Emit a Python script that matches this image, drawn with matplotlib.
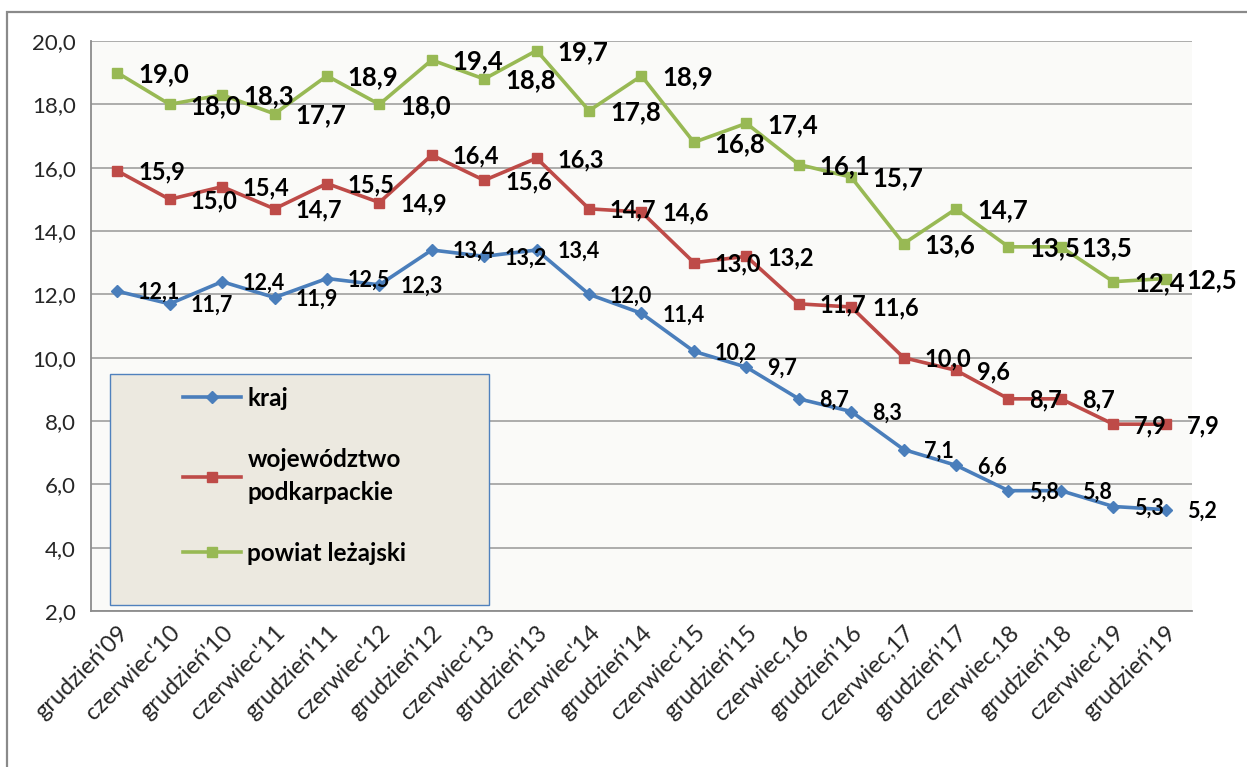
import matplotlib
matplotlib.use("Agg")
import matplotlib.pyplot as plt
from matplotlib.patches import Rectangle

plt.rcParams['font.family'] = ['Lato', 'DejaVu Sans']

categories = ["grudzień'09", "czerwiec'10", "grudzień'10", "czerwiec'11", "grudzień'11",
              "czerwiec'12", "grudzień'12", "czerwiec'13", "grudzień'13", "czerwiec'14",
              "grudzień'14", "czerwiec'15", "grudzień'15", "czerwiec,16", "grudzień'16",
              "czerwiec,17", "grudzień'17", "czerwiec,18", "grudzień'18", "czerwiec'19",
              "grudzień'19"]

kraj = [12.1, 11.7, 12.4, 11.9, 12.5, 12.3, 13.4, 13.2, 13.4, 12.0, 11.4,
        10.2, 9.7, 8.7, 8.3, 7.1, 6.6, 5.8, 5.8, 5.3, 5.2]
podkarpackie = [15.9, 15.0, 15.4, 14.7, 15.5, 14.9, 16.4, 15.6, 16.3, 14.7, 14.6,
                13.0, 13.2, 11.7, 11.6, 10.0, 9.6, 8.7, 8.7, 7.9, 7.9]
lezajski = [19.0, 18.0, 18.3, 17.7, 18.9, 18.0, 19.4, 18.8, 19.7, 17.8, 18.9,
            16.8, 17.4, 16.1, 15.7, 13.6, 14.7, 13.5, 13.5, 12.4, 12.5]

series_names = ["kraj", "województwo\npodkarpackie", "powiat leżajski"]
yticks = [2, 4, 6, 8, 10, 12, 14, 16, 18, 20]

W, H = 1247, 767
fig = plt.figure(figsize=(W / 100, H / 100), dpi=100)
fig.patch.set_facecolor('white')

# outer chart frame (left and top visible)
fig.add_artist(Rectangle((7 / W, -0.2), 1.5, 1.2 - 12 / H, transform=fig.transFigure,
                         fill=False, edgecolor='#8a8a8a', linewidth=1.6))

ax = fig.add_axes([91 / W, 1 - 611 / H, (1192 - 91) / W, (611 - 41) / H])
ax.set_facecolor('#fafaf8')

x = list(range(len(categories)))
styles = [
    (kraj, '#4a7ebb', 'D', 6, 15.5),
    (podkarpackie, '#be4b48', 's', 6.5, 17),
    (lezajski, '#98b954', 's', 7, 18.5),
]
handles = []
for (vals, color, marker, ms, fs), name in zip(styles, series_names):
    h, = ax.plot(x, vals, color=color, linewidth=2.6, marker=marker, markersize=ms,
                 markeredgecolor=color, markerfacecolor=color, zorder=3, label=name)
    handles.append(h)
    for xi, v in zip(x, vals):
        ax.annotate(f"{v:.1f}".replace('.', ','), (xi, v), xytext=(15, -1),
                    textcoords='offset points', ha='left', va='center',
                    fontsize=fs, fontweight='bold', color='black', zorder=5,
                    annotation_clip=False)

ax.set_xlim(-0.5, len(categories) - 0.5)
ax.set_ylim(2, 20)
ax.set_yticks(yticks)
ax.set_yticklabels([f"{t:.1f}".replace('.', ',') for t in yticks], fontsize=16, color='#262626')
ax.set_xticks(x)
ax.set_xticklabels(categories, rotation=45, ha='right', rotation_mode='anchor',
                   fontsize=17, color='#262626')
ax.tick_params(axis='both', length=0)
ax.tick_params(axis='y', pad=11)
ax.tick_params(axis='x', pad=8)
ax.grid(axis='y', color='#a6a6a6', linewidth=1.3)
ax.set_axisbelow(True)
for s in ['top', 'right']:
    ax.spines[s].set_visible(False)
ax.spines['left'].set_color('#8c8c8c')
ax.spines['bottom'].set_color('#8c8c8c')
ax.spines['left'].set_linewidth(1.3)
ax.spines['bottom'].set_linewidth(1.3)

# legend box
axw, axh = 1192 - 91, 611 - 41
bx0 = (110 - 91) / axw
by0 = (611 - 605) / axh
bw = (489 - 110) / axw
bh = (605 - 374) / axh
ax.add_patch(Rectangle((bx0, by0), bw, bh, transform=ax.transAxes, facecolor='#ece9e0',
                       edgecolor='#4f81bd', linewidth=1.0, zorder=6))
leg = ax.legend(handles=handles, loc='upper left',
                bbox_to_anchor=((183 - 91) / axw, (611 - 387) / axh),
                frameon=False, borderpad=0, borderaxespad=0,
                handlelength=2.4, handletextpad=0.25, labelspacing=1.55,
                prop={'weight': 'bold', 'size': 17.5})
for t in leg.get_texts():
    t.set_linespacing(1.55)
leg.set_zorder(7)

fig.savefig('out.png', dpi=100)
